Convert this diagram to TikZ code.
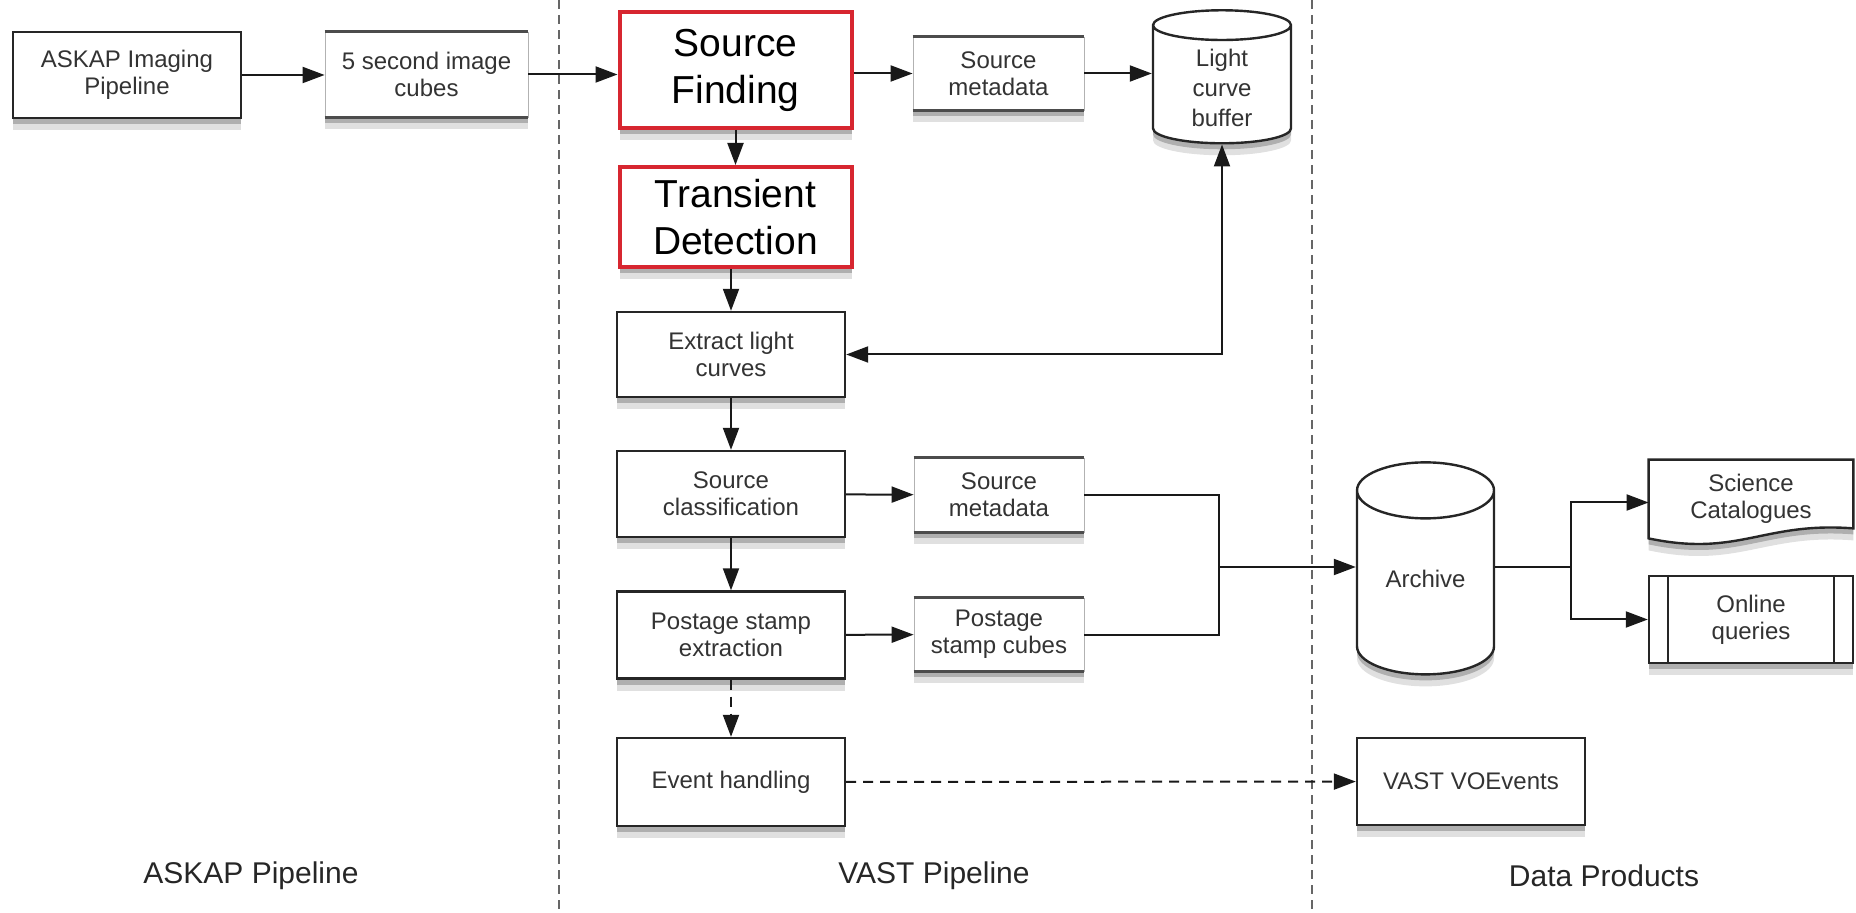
\documentclass[tikz,border=0pt]{standalone}
\usepackage{fontspec}
\setmainfont{Liberation Sans}
\usepackage{tikz}
\usetikzlibrary{shapes,arrows,positioning,calc,shadows,arrows.meta}
\definecolor{boxred}{RGB}{215,38,48}
\definecolor{inkgray}{RGB}{51,51,51}

\begin{document}
\begin{tikzpicture}[
    x=0.5pt, y=-0.5pt,
    >={Triangle[length=11pt,width=8pt]},
    every node/.style={font=\fontsize{12}{13.5}\selectfont, text=inkgray, align=center},
    softshadow/.style={drop shadow={shadow xshift=0pt, shadow yshift=-3pt, opacity=0.22, fill=black},
                       drop shadow={shadow xshift=0pt, shadow yshift=-6pt, opacity=0.12, fill=black}},
    process/.style={rectangle, draw=black!85, line width=1.2pt, fill=white, softshadow},
    redbox/.style={rectangle, draw=boxred, line width=2pt, fill=white, text=black, softshadow,
                   font=\fontsize{19.5}{23.5}\selectfont},
    fileedge/.style={draw=black!70, line width=1.5pt, -},
    datafile/.style={rectangle, draw=black!30, line width=0.4pt, fill=white, softshadow,
        append after command={(\tikzlastnode.north west) edge[fileedge] (\tikzlastnode.north east)
                              (\tikzlastnode.south west) edge[fileedge] (\tikzlastnode.south east)}},
    store/.style={cylinder, shape border rotate=90, draw=black!85, line width=1.2pt, fill=white, softshadow},
    flow/.style={line width=1pt, draw=black!90},
    divider/.style={line width=1pt, draw=black!60, dash pattern=on 4.5pt off 3pt},
    lane/.style={font=\fontsize{15}{18}\selectfont, text=black!85}
]
    \useasboundingbox (0,0) rectangle (1856,913);

    % lane dividers
    \draw[divider] (559,0) -- (559,913);
    \draw[divider] (1312,0) -- (1312,913);

    % ASKAP side
    \node[process, minimum width=114pt, minimum height=43pt] (askap) at (127,75) {ASKAP Imaging\\Pipeline};
    \node[datafile, minimum width=101.5pt, minimum height=42.5pt] (cubes) at (426.5,74.5) {5 second image\\cubes};

    % VAST pipeline
    \node[redbox, minimum width=116pt, minimum height=58pt] (srcfind) at (735.5,70) {Source\\Finding};
    \node[redbox, minimum width=116pt, minimum height=50pt] (transdet) at (735.5,217) {Transient\\Detection};
    \node[datafile, minimum width=85.5pt, minimum height=36.5pt] (srcmeta) at (998.5,73.5) {Source\\metadata};
    \node[store, minimum width=69pt, minimum height=66.5pt, aspect=0.4,
          font=\fontsize{12}{15}\selectfont] (lcbuffer) at (1222,88) {Light\\curve\\buffer};
    \node[process, minimum width=114pt, minimum height=42.5pt] (extract) at (731,354.5) {Extract light\\curves};
    \node[process, minimum width=114pt, minimum height=43pt] (srcclass) at (731,494) {Source\\classification};
    \node[datafile, minimum width=85pt, minimum height=37pt] (clsmeta) at (999,495) {Source\\metadata};
    \node[process, minimum width=114pt, minimum height=43.5pt] (pstamp) at (731,635) {Postage stamp\\extraction};
    \node[datafile, minimum width=85pt, minimum height=36.5pt] (pscubes) at (999,634.5) {Postage\\stamp cubes};
    \node[process, minimum width=114pt, minimum height=44pt] (event) at (731,782) {Event handling};

    % data products
    \node[store, minimum width=68.5pt, minimum height=106pt, aspect=0.6, text depth=10pt] (archive) at (1425.5,589) {Archive};
    \node[minimum width=102pt, minimum height=42.5pt] (sci) at (1751,502.5) {};
    \draw[draw=black!85, line width=1.2pt, fill=white, softshadow]
        (sci.north west) -- (sci.north east) -- ([yshift=8.5pt]sci.south east)
        .. controls ([xshift=-45pt,yshift=12pt]sci.south east) and ([xshift=45pt,yshift=-6pt]sci.south west)
        .. ([yshift=3.5pt]sci.south west) -- cycle;
    \node at ([yshift=2pt]sci.center) {Science\\Catalogues};
    \node[process, minimum width=102pt, minimum height=43.5pt,
        append after command={([xshift=10pt]\tikzlastnode.north west) edge[draw=black!85, line width=1pt] ([xshift=10pt]\tikzlastnode.south west)
                              ([xshift=-10pt]\tikzlastnode.north east) edge[draw=black!85, line width=1pt] ([xshift=-10pt]\tikzlastnode.south east)}]
        (online) at (1751,619.5) {Online\\queries};
    \node[process, minimum width=114pt, minimum height=43.5pt] (voevents) at (1471,781.5) {VAST VOEvents};

    \coordinate (merge) at (1219,567);
    \coordinate (split) at (1571,567);

    \draw[flow, ->] (askap) -- (askap -| cubes.west);
    \draw[flow, ->] (cubes) -- (cubes -| srcfind.west);
    \draw[flow, ->] (srcmeta -| srcfind.east) -- (srcmeta);
    \draw[flow, ->] (srcmeta) -- (srcmeta -| lcbuffer.west);
    \draw[flow, ->] (srcfind) -- (transdet);
    \draw[flow, ->] (transdet.south -| extract) -- (extract);
    \draw[flow, <->] (extract.east) -| (lcbuffer.south);
    \draw[flow, ->] (extract) -- (srcclass);
    \draw[flow, ->] (srcclass) -- (clsmeta);
    \draw[flow, ->] (srcclass) -- (pstamp);
    \draw[flow, ->] (pstamp) -- (pscubes);
    \draw[flow, ->, dash pattern=on 5pt off 3.5pt] (pstamp) -- (event);
    \draw[flow] (clsmeta.east) -| (merge);
    \draw[flow] (pscubes.east) -| (merge);
    \draw[flow, ->] (merge) -- (merge -| archive.west);
    \draw[flow] (split -| archive.east) -- (split);
    \draw[flow, ->] (split) |- (sci.west);
    \draw[flow, ->] (split) |- (online.west);
    \draw[flow, ->, dash pattern=on 5pt off 3.5pt] (event) -- (voevents);

    % lane titles
    \node[lane] (askaplane) at (251,876) {ASKAP Pipeline};
    \node[lane] (vastlane) at (934,876) {VAST Pipeline};
    \node[lane] (datalane) at (1604,876) {Data Products};
\end{tikzpicture}
\end{document}
